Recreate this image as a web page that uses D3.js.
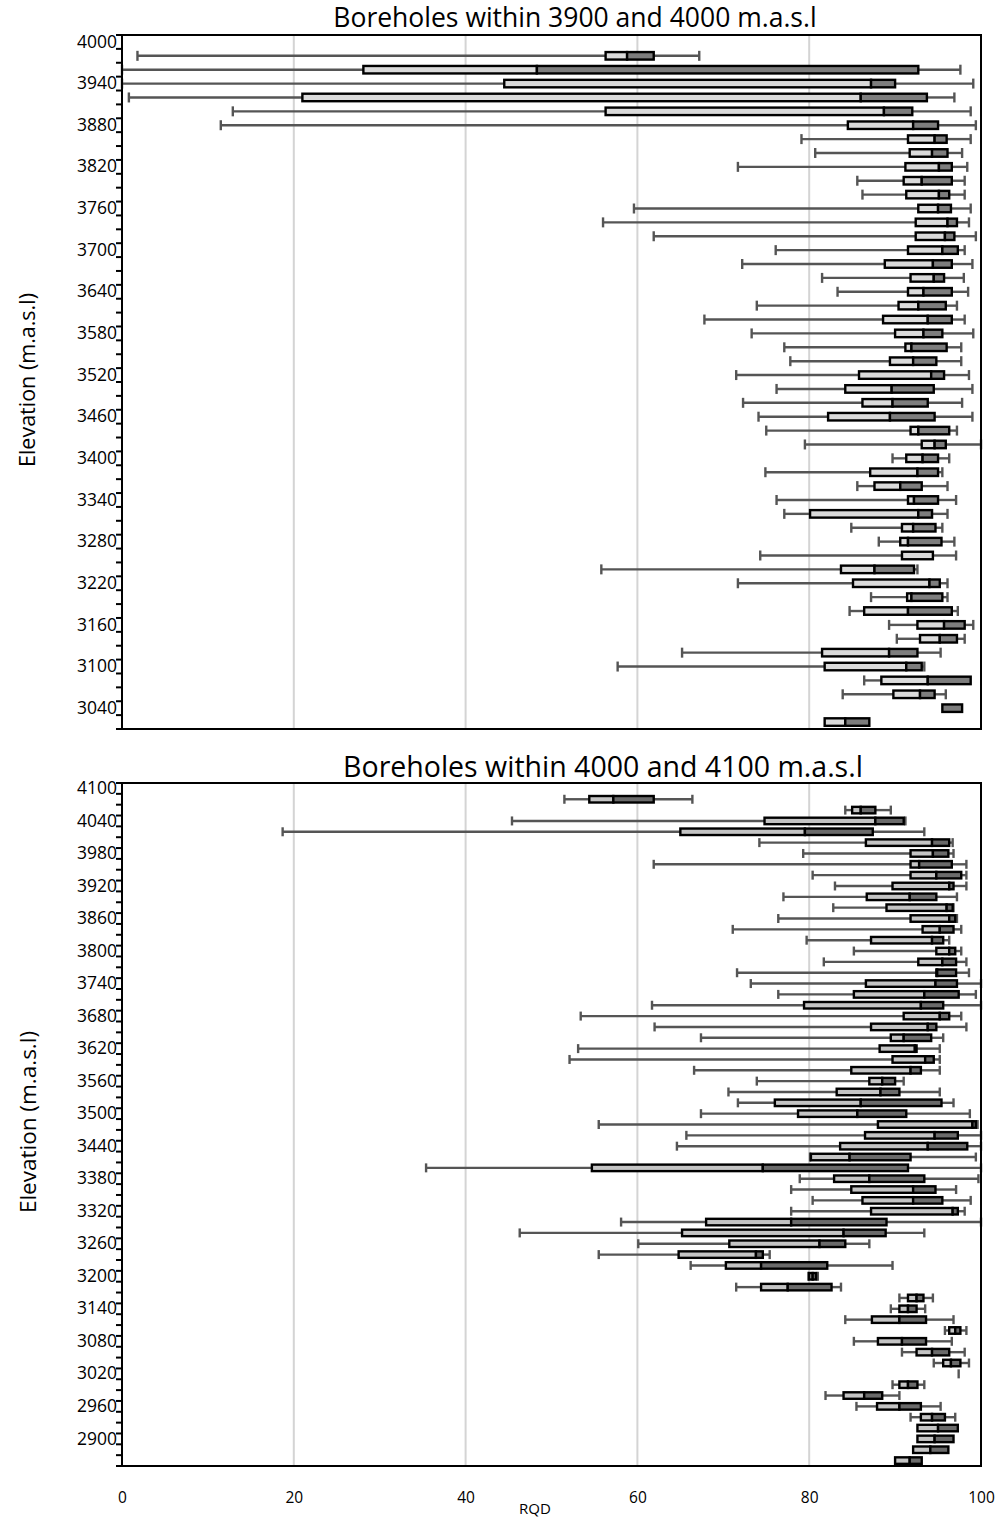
<!DOCTYPE html>
<html>
<head>
<meta charset="utf-8">
<script src="https://cdn.jsdelivr.net/npm/d3@7"></script>
<style>
  body { margin: 0; background: #fff; }
  svg { display: block; }
  text { font-family: "Open Sans", "Noto Sans", sans-serif; fill: #000; }
</style>
</head>
<body>
<svg id="chart" width="1005" height="1521"></svg>
<script>
// ---- Boreholes within 3900 and 4000 m.a.s.l (RQD statistics per 20 m elevation bin) ----
const topElev = [4000,3980,3960,3940,3920,3900,3880,3860,3840,3820,
                 3800,3780,3760,3740,3720,3700,3680,3660,3640,3620,
                 3600,3580,3560,3540,3520,3500,3480,3460,3440,3420,
                 3400,3380,3360,3340,3320,3300,3280,3260,3240,3220,
                 3200,3180,3160,3140,3120,3100,3080,3060,3040,3020];
const topMin = [null,1.8,0,0,0.8,12.9,11.5,79.1,80.7,71.7,
                85.6,86.2,59.6,56.0,61.9,76.1,72.2,81.5,83.3,73.9,
                67.8,73.3,77.1,77.8,71.5,76.2,72.3,74.1,75.0,79.5,
                89.7,74.9,85.6,76.2,77.1,84.9,88.1,74.3,55.8,71.7,
                87.2,84.7,89.3,90.2,65.2,57.7,86.4,83.9,95.5,81.8];
const topQ1 = [null,56.3,28.1,44.5,21.0,56.3,84.5,91.5,91.7,91.2,
               91.0,91.3,92.7,92.4,92.4,91.5,88.8,91.8,91.5,90.4,
               88.6,90.0,91.2,89.4,85.8,84.2,86.2,82.2,91.8,93.1,
               91.3,87.1,87.6,91.5,80.1,90.8,90.6,90.8,83.7,85.1,
               91.4,86.4,92.6,92.9,81.5,81.8,88.4,89.8,95.5,81.8];
const topMed = [null,58.8,48.3,87.2,86.0,88.7,92.1,94.6,94.3,95.1,
                93.1,95.1,95.0,96.1,95.8,95.5,94.4,94.5,93.3,92.7,
                93.8,93.3,91.9,92.1,94.2,89.6,89.7,89.4,92.7,94.6,
                93.2,92.6,90.6,92.2,92.7,92.1,91.5,94.4,87.6,94.0,
                91.9,91.5,95.7,95.2,89.3,91.3,93.8,92.9,95.5,84.2];
const topQ3 = [null,61.9,92.7,90.0,93.7,92.0,95.0,96.0,96.1,96.6,
               96.6,96.3,96.5,97.2,96.9,97.3,96.6,95.7,96.6,95.9,
               96.6,95.5,96.0,94.8,95.7,94.5,93.8,94.6,96.3,95.9,
               95.0,95.0,93.1,95.0,94.3,94.7,95.4,94.4,92.2,95.2,
               95.5,96.6,98.1,97.2,92.6,93.1,98.8,94.6,97.8,87.0];
const topMax = [null,67.2,97.6,99.1,96.9,98.8,99.4,98.8,97.8,98.4,
                98.1,98.1,98.8,98.6,99.4,98.1,99.0,98.0,98.5,97.2,
                98.1,99.1,97.7,97.7,98.6,99.0,97.8,99.0,97.2,100,
                96.3,95.5,96.1,97.1,96.1,95.5,96.9,97.1,92.6,96.1,
                96.1,97.3,99.1,98.1,95.3,93.4,98.8,95.9,97.8,87.0];
const topLabels = [4000,3940,3880,3820,3760,3700,3640,3580,3520,3460,
                   3400,3340,3280,3220,3160,3100,3040];

// ---- Boreholes within 4000 and 4100 m.a.s.l ----
const botElev = [4100,4080,4060,4040,4020,4000,3980,3960,3940,3920,
                 3900,3880,3860,3840,3820,3800,3780,3760,3740,3720,
                 3700,3680,3660,3640,3620,3600,3580,3560,3540,3520,
                 3500,3480,3460,3440,3420,3400,3380,3360,3340,3320,
                 3300,3280,3260,3240,3220,3200,3180,3160,3140,3120,
                 3100,3080,3060,3040,3020,3000,2980,2960,2940,2920,
                 2900,2880,2860];
const botMin = [null,51.5,84.2,45.4,18.7,74.2,79.3,61.9,80.4,83.0,
                77.0,82.8,76.4,71.1,79.7,85.2,81.7,71.6,73.2,76.4,
                61.7,53.4,62.0,67.4,53.1,52.1,66.6,73.9,70.6,71.7,
                67.4,55.5,65.7,64.6,80.1,35.4,78.9,77.9,80.4,77.9,
                58.1,46.3,60.1,55.5,66.2,79.9,71.5,90.5,89.5,84.2,
                95.8,85.2,90.8,94.5,97.4,89.7,81.9,85.5,91.8,92.6,
                92.6,92.1,90.0];
const botQ1 = [null,54.4,85.0,74.8,65.0,86.6,91.8,91.8,91.8,89.7,
               86.7,89.0,91.8,93.2,87.2,94.8,92.7,94.8,86.6,85.2,
               79.4,91.0,87.2,89.5,88.2,89.7,84.9,87.0,83.2,76.0,
               78.7,88.0,86.5,83.6,80.2,54.7,82.9,84.9,86.2,87.2,
               68.0,65.2,70.7,64.8,70.3,80.0,74.4,91.5,90.5,87.3,
               96.3,88.0,92.5,95.6,97.4,90.5,84.0,87.9,93.0,92.6,
               92.6,92.1,90.0];
const botMed = [null,57.2,86.0,87.7,79.5,94.3,94.4,92.8,94.8,96.3,
                91.7,96.0,96.3,95.2,94.3,96.3,95.5,94.9,94.7,93.4,
                93.0,95.2,93.8,91.0,92.3,93.5,91.8,88.5,88.3,86.0,
                85.6,99.0,94.6,93.8,84.7,74.6,87.0,92.1,92.1,96.7,
                77.9,84.0,81.2,73.8,74.4,80.4,77.5,92.5,91.5,90.5,
                97.0,90.8,94.3,96.5,97.4,91.5,86.4,90.5,94.3,95.0,
                94.6,94.1,91.7];
const botQ3 = [null,61.9,87.7,91.0,87.4,96.3,96.2,96.6,97.7,96.8,
               94.8,96.7,97.0,96.8,95.6,97.0,97.1,97.1,97.2,97.4,
               95.6,96.3,94.8,94.2,92.5,94.5,93.0,90.0,90.5,95.4,
               91.3,99.4,97.3,98.4,91.8,91.5,93.4,94.7,95.5,97.3,
               89.0,88.9,84.2,74.6,82.1,80.8,82.6,93.3,92.5,93.6,
               97.6,93.6,96.3,97.6,97.4,92.6,88.5,93.0,95.8,97.3,
               96.8,96.2,93.1];
const botMax = [null,66.4,89.5,91.2,93.4,96.7,96.8,98.3,98.3,98.3,
                97.2,96.8,97.2,97.7,96.3,97.7,98.3,98.6,100,99.4,
                100,97.7,98.3,95.6,95.2,95.2,95.2,91.0,95.2,96.8,
                98.7,99.6,100,100,99.4,100,99.7,97.1,98.8,98.1,
                100,93.4,87.0,75.4,89.7,81.0,83.7,94.4,93.5,96.8,
                98.3,96.6,98.1,98.6,97.4,93.4,90.5,95.3,97.0,97.3,
                96.8,96.2,93.1];
const botLabels = [4100,4040,3980,3920,3860,3800,3740,3680,3620,3560,
                   3500,3440,3380,3320,3260,3200,3140,3080,3020,2960,2900];

// shared RQD axis
const rqdTicks = [0,20,40,60,80,100];
const gridTicks = [20,40,60,80];

const svg = d3.select("#chart");
const x = d3.scaleLinear().domain([0, 100]).range([122, 981]);

function drawPanel(o) {
  const rows = o.elev.map((e, i) => ({
    e, mn: o.mn[i], q1: o.q1[i], med: o.med[i], q3: o.q3[i], mx: o.mx[i]
  }));
  const y = d3.scaleBand().domain(o.elev).range([o.top, o.bottom]).padding(0);
  const g = svg.append("g");

  // vertical gridlines
  g.selectAll("line.grid").data(gridTicks).join("line")
    .attr("x1", d => x(d)).attr("x2", d => x(d))
    .attr("y1", o.top).attr("y2", o.bottom)
    .attr("stroke", "#d4d4d4").attr("stroke-width", 2);

  const data = rows.filter(r => r.q1 != null);
  const cy = d => y(d.e) + y.bandwidth() / 2;

  // whiskers (min -> Q1, Q3 -> max) with end caps
  const wh = [];
  data.forEach(r => {
    if (r.q1 - r.mn > 0.05) wh.push({ r, a: r.q1, b: r.mn });
    if (r.mx - r.q3 > 0.05) wh.push({ r, a: r.q3, b: r.mx });
    if (r.mx - r.mn < 0.05) wh.push({ r, a: r.mx, b: r.mx });
  });
  g.selectAll("line.wh").data(wh).join("line")
    .attr("x1", d => x(d.a)).attr("x2", d => x(d.b))
    .attr("y1", d => cy(d.r)).attr("y2", d => cy(d.r))
    .attr("stroke", "#555").attr("stroke-width", 2.4);
  g.selectAll("line.cap").data(wh).join("line")
    .attr("x1", d => x(d.b)).attr("x2", d => x(d.b))
    .attr("y1", d => cy(d.r) - o.cap / 2).attr("y2", d => cy(d.r) + o.cap / 2)
    .attr("stroke", "#555").attr("stroke-width", 2.4);

  // box halves: Q1 -> median (light), median -> Q3 (dark)
  const boxes = data.filter(r => r.q3 > r.q1);
  g.selectAll("rect.lo").data(boxes.filter(r => r.med > r.q1)).join("rect")
    .attr("x", d => x(d.q1)).attr("width", d => x(d.med) - x(d.q1))
    .attr("y", d => cy(d) - o.box / 2).attr("height", o.box)
    .attr("fill", o.light).attr("stroke", "#000").attr("stroke-width", 2.4);
  g.selectAll("rect.hi").data(boxes.filter(r => r.q3 > r.med)).join("rect")
    .attr("x", d => x(d.med)).attr("width", d => x(d.q3) - x(d.med))
    .attr("y", d => cy(d) - o.box / 2).attr("height", o.box)
    .attr("fill", o.dark).attr("stroke", "#000").attr("stroke-width", 2.4);

  // plot frame
  g.append("rect")
    .attr("x", x(0)).attr("y", o.top)
    .attr("width", x(100) - x(0)).attr("height", o.bottom - o.top)
    .attr("fill", "none").attr("stroke", "#000").attr("stroke-width", 2);

  // category boundary ticks on the elevation axis
  const bounds = o.elev.map(e => y(e)).concat([o.bottom]);
  g.selectAll("line.tk").data(bounds).join("line")
    .attr("x1", x(0) - 6).attr("x2", x(0))
    .attr("y1", d => d).attr("y2", d => d)
    .attr("stroke", "#000").attr("stroke-width", 2);

  // elevation labels
  const ax = g.append("g").attr("transform", `translate(${x(0)},0)`)
    .call(d3.axisLeft(y).tickValues(o.labels).tickSize(0).tickPadding(5));
  ax.select(".domain").remove();
  ax.selectAll("text").attr("font-size", o.labelSize)
    .attr("font-family", '"Open Sans", sans-serif').attr("fill", "#000");

  // title
  svg.append("text").attr("x", o.titleX).attr("y", o.titleY)
    .attr("text-anchor", "middle").attr("font-size", o.titleSize)
    .text(o.title);

  // axis title
  svg.append("text")
    .attr("transform", `translate(${o.yTitleX},${o.yTitleY}) rotate(-90)`)
    .attr("text-anchor", "middle").attr("font-size", o.yTitleSize)
    .text("Elevation (m.a.s.l)");
}

drawPanel({
  elev: topElev, mn: topMin, q1: topQ1, med: topMed, q3: topQ3, mx: topMax,
  labels: topLabels, top: 35, bottom: 729, box: 7.5, cap: 10,
  light: "#dadada", dark: "#7d7d7d", labelSize: 17.5,
  title: "Boreholes within 3900 and 4000 m.a.s.l", titleX: 575, titleY: 27, titleSize: 26.5,
  yTitleX: 35, yTitleY: 380, yTitleSize: 21.5
});

drawPanel({
  elev: botElev, mn: botMin, q1: botQ1, med: botMed, q3: botQ3, mx: botMax,
  labels: botLabels, top: 783, bottom: 1466, box: 6.5, cap: 9,
  light: "#c4c4c4", dark: "#6a6a6a", labelSize: 17.5,
  title: "Boreholes within 4000 and 4100 m.a.s.l", titleX: 603, titleY: 777, titleSize: 28.5,
  yTitleX: 36, yTitleY: 1122, yTitleSize: 22.5
});

// RQD tick labels along the bottom
const xa = svg.append("g").attr("transform", "translate(0,1466)")
  .call(d3.axisBottom(x).tickValues(rqdTicks).tickSize(0).tickPadding(26));
xa.select(".domain").remove();
xa.selectAll("text").attr("font-size", 15.5).attr("fill", "#000")
  .attr("font-family", '"Open Sans", sans-serif');

svg.append("text").attr("x", 535).attr("y", 1514)
  .attr("text-anchor", "middle").attr("font-size", 15).text("RQD");
</script>
</body>
</html>
